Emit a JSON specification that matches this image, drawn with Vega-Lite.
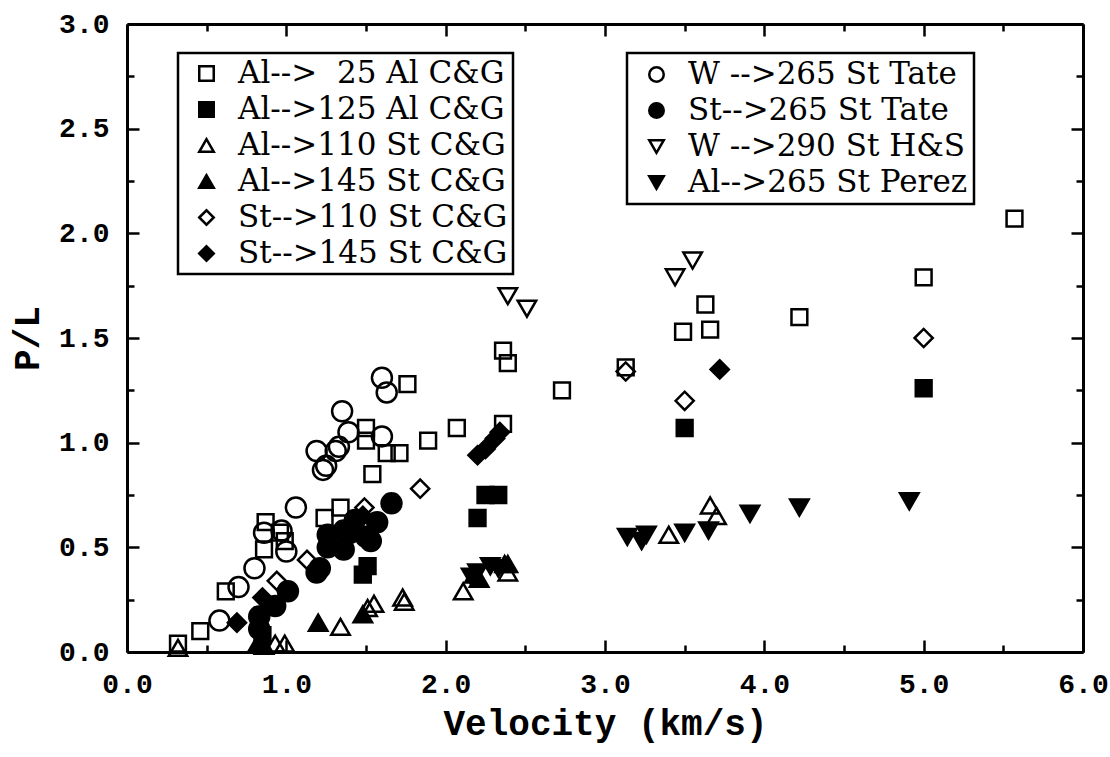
{
  "$schema": "https://vega.github.io/schema/vega-lite/v6.json",
  "width": 956,
  "height": 628,
  "autosize": "none",
  "padding": {"left": 127, "top": 24, "right": 27, "bottom": 105},
  "background": "white",
  "config": {
    "view": {"stroke": null},
    "axis": {
      "domainColor": "black", "domainWidth": 3, "tickColor": "black", "tickWidth": 2.5,
      "labelFont": "Liberation Mono", "labelFontWeight": "bold", "labelFontSize": 28, "labelColor": "black",
      "titleFont": "Liberation Mono", "titleFontWeight": "bold", "titleFontSize": 36, "titleColor": "black",
      "grid": false, "labelFlush": false, "labelOverlap": false
    },
    "legend": {
      "labelFont": "DejaVu Serif", "labelFontSize": 31, "labelColor": "black", "labelLimit": 500,
      "strokeColor": "black", "strokeWidth": 2.5, "fillColor": "white",
      "symbolStrokeWidth": 2.5, "symbolSize": 210
    }
  },
  "datasets": {
    "a": [
      {"s": "Al-->\u200725 Al C&G", "v": 0.32, "pl": 0.04},
      {"s": "Al-->\u200725 Al C&G", "v": 0.46, "pl": 0.10},
      {"s": "Al-->\u200725 Al C&G", "v": 0.62, "pl": 0.29},
      {"s": "Al-->\u200725 Al C&G", "v": 0.86, "pl": 0.49},
      {"s": "Al-->\u200725 Al C&G", "v": 0.87, "pl": 0.62},
      {"s": "Al-->\u200725 Al C&G", "v": 0.96, "pl": 0.57},
      {"s": "Al-->\u200725 Al C&G", "v": 0.99, "pl": 0.53},
      {"s": "Al-->\u200725 Al C&G", "v": 1.24, "pl": 0.64},
      {"s": "Al-->\u200725 Al C&G", "v": 1.34, "pl": 0.69},
      {"s": "Al-->\u200725 Al C&G", "v": 1.50, "pl": 1.07},
      {"s": "Al-->\u200725 Al C&G", "v": 1.50, "pl": 1.01},
      {"s": "Al-->\u200725 Al C&G", "v": 1.54, "pl": 0.85},
      {"s": "Al-->\u200725 Al C&G", "v": 1.63, "pl": 0.95},
      {"s": "Al-->\u200725 Al C&G", "v": 1.71, "pl": 0.95},
      {"s": "Al-->\u200725 Al C&G", "v": 1.76, "pl": 1.28},
      {"s": "Al-->\u200725 Al C&G", "v": 1.89, "pl": 1.01},
      {"s": "Al-->\u200725 Al C&G", "v": 2.07, "pl": 1.07},
      {"s": "Al-->\u200725 Al C&G", "v": 2.36, "pl": 1.09},
      {"s": "Al-->\u200725 Al C&G", "v": 2.36, "pl": 1.44},
      {"s": "Al-->\u200725 Al C&G", "v": 2.39, "pl": 1.38},
      {"s": "Al-->\u200725 Al C&G", "v": 2.73, "pl": 1.25},
      {"s": "Al-->\u200725 Al C&G", "v": 3.13, "pl": 1.36},
      {"s": "Al-->\u200725 Al C&G", "v": 3.49, "pl": 1.53},
      {"s": "Al-->\u200725 Al C&G", "v": 3.63, "pl": 1.66},
      {"s": "Al-->\u200725 Al C&G", "v": 3.66, "pl": 1.54},
      {"s": "Al-->\u200725 Al C&G", "v": 4.22, "pl": 1.60},
      {"s": "Al-->\u200725 Al C&G", "v": 5.00, "pl": 1.79},
      {"s": "Al-->\u200725 Al C&G", "v": 5.57, "pl": 2.07},
      {"s": "Al-->125 Al C&G", "v": 0.85, "pl": 0.08},
      {"s": "Al-->125 Al C&G", "v": 1.48, "pl": 0.37},
      {"s": "Al-->125 Al C&G", "v": 1.51, "pl": 0.41},
      {"s": "Al-->125 Al C&G", "v": 2.20, "pl": 0.64},
      {"s": "Al-->125 Al C&G", "v": 2.25, "pl": 0.75},
      {"s": "Al-->125 Al C&G", "v": 2.33, "pl": 0.75},
      {"s": "Al-->125 Al C&G", "v": 3.50, "pl": 1.07},
      {"s": "Al-->125 Al C&G", "v": 5.00, "pl": 1.26},
      {"s": "Al-->110 St C&G", "v": 0.32, "pl": 0.02},
      {"s": "Al-->110 St C&G", "v": 0.93, "pl": 0.04},
      {"s": "Al-->110 St C&G", "v": 0.99, "pl": 0.04},
      {"s": "Al-->110 St C&G", "v": 1.34, "pl": 0.12},
      {"s": "Al-->110 St C&G", "v": 1.51, "pl": 0.21},
      {"s": "Al-->110 St C&G", "v": 1.55, "pl": 0.23},
      {"s": "Al-->110 St C&G", "v": 1.73, "pl": 0.26},
      {"s": "Al-->110 St C&G", "v": 1.74, "pl": 0.24},
      {"s": "Al-->110 St C&G", "v": 2.11, "pl": 0.29},
      {"s": "Al-->110 St C&G", "v": 2.37, "pl": 0.42},
      {"s": "Al-->110 St C&G", "v": 2.39, "pl": 0.38},
      {"s": "Al-->110 St C&G", "v": 3.40, "pl": 0.56},
      {"s": "Al-->110 St C&G", "v": 3.66, "pl": 0.70},
      {"s": "Al-->110 St C&G", "v": 3.70, "pl": 0.65},
      {"s": "Al-->145 St C&G", "v": 0.82, "pl": 0.04},
      {"s": "Al-->145 St C&G", "v": 0.86, "pl": 0.03},
      {"s": "Al-->145 St C&G", "v": 1.20, "pl": 0.14},
      {"s": "Al-->145 St C&G", "v": 1.48, "pl": 0.18},
      {"s": "Al-->145 St C&G", "v": 2.18, "pl": 0.37},
      {"s": "Al-->145 St C&G", "v": 2.21, "pl": 0.35},
      {"s": "Al-->145 St C&G", "v": 2.39, "pl": 0.42},
      {"s": "St-->110 St C&G", "v": 0.94, "pl": 0.34},
      {"s": "St-->110 St C&G", "v": 1.13, "pl": 0.44},
      {"s": "St-->110 St C&G", "v": 1.49, "pl": 0.69},
      {"s": "St-->110 St C&G", "v": 1.84, "pl": 0.78},
      {"s": "St-->110 St C&G", "v": 3.13, "pl": 1.34},
      {"s": "St-->110 St C&G", "v": 3.50, "pl": 1.20},
      {"s": "St-->110 St C&G", "v": 5.00, "pl": 1.50},
      {"s": "St-->145 St C&G", "v": 0.69, "pl": 0.14},
      {"s": "St-->145 St C&G", "v": 0.85, "pl": 0.26},
      {"s": "St-->145 St C&G", "v": 1.40, "pl": 0.60},
      {"s": "St-->145 St C&G", "v": 1.48, "pl": 0.65},
      {"s": "St-->145 St C&G", "v": 2.20, "pl": 0.94},
      {"s": "St-->145 St C&G", "v": 2.25, "pl": 0.97},
      {"s": "St-->145 St C&G", "v": 2.31, "pl": 1.02},
      {"s": "St-->145 St C&G", "v": 2.34, "pl": 1.05},
      {"s": "St-->145 St C&G", "v": 3.72, "pl": 1.35}
    ],
    "b": [
      {"s": "W -->265 St Tate", "v": 0.58, "pl": 0.15},
      {"s": "W -->265 St Tate", "v": 0.70, "pl": 0.31},
      {"s": "W -->265 St Tate", "v": 0.80, "pl": 0.40},
      {"s": "W -->265 St Tate", "v": 0.86, "pl": 0.57},
      {"s": "W -->265 St Tate", "v": 0.97, "pl": 0.58},
      {"s": "W -->265 St Tate", "v": 1.00, "pl": 0.48},
      {"s": "W -->265 St Tate", "v": 1.06, "pl": 0.69},
      {"s": "W -->265 St Tate", "v": 1.19, "pl": 0.96},
      {"s": "W -->265 St Tate", "v": 1.23, "pl": 0.87},
      {"s": "W -->265 St Tate", "v": 1.25, "pl": 0.89},
      {"s": "W -->265 St Tate", "v": 1.31, "pl": 0.96},
      {"s": "W -->265 St Tate", "v": 1.33, "pl": 0.98},
      {"s": "W -->265 St Tate", "v": 1.35, "pl": 1.15},
      {"s": "W -->265 St Tate", "v": 1.39, "pl": 1.05},
      {"s": "W -->265 St Tate", "v": 1.60, "pl": 1.03},
      {"s": "W -->265 St Tate", "v": 1.60, "pl": 1.31},
      {"s": "W -->265 St Tate", "v": 1.63, "pl": 1.24},
      {"s": "St-->265 St Tate", "v": 0.83, "pl": 0.11},
      {"s": "St-->265 St Tate", "v": 0.83, "pl": 0.17},
      {"s": "St-->265 St Tate", "v": 0.93, "pl": 0.22},
      {"s": "St-->265 St Tate", "v": 1.01, "pl": 0.29},
      {"s": "St-->265 St Tate", "v": 1.19, "pl": 0.38},
      {"s": "St-->265 St Tate", "v": 1.21, "pl": 0.40},
      {"s": "St-->265 St Tate", "v": 1.26, "pl": 0.50},
      {"s": "St-->265 St Tate", "v": 1.26, "pl": 0.56},
      {"s": "St-->265 St Tate", "v": 1.36, "pl": 0.49},
      {"s": "St-->265 St Tate", "v": 1.36, "pl": 0.58},
      {"s": "St-->265 St Tate", "v": 1.40, "pl": 0.57},
      {"s": "St-->265 St Tate", "v": 1.43, "pl": 0.63},
      {"s": "St-->265 St Tate", "v": 1.50, "pl": 0.55},
      {"s": "St-->265 St Tate", "v": 1.53, "pl": 0.53},
      {"s": "St-->265 St Tate", "v": 1.57, "pl": 0.62},
      {"s": "St-->265 St Tate", "v": 1.66, "pl": 0.71},
      {"s": "W -->290 St H&S", "v": 2.39, "pl": 1.70},
      {"s": "W -->290 St H&S", "v": 2.51, "pl": 1.64},
      {"s": "W -->290 St H&S", "v": 3.44, "pl": 1.79},
      {"s": "W -->290 St H&S", "v": 3.55, "pl": 1.87},
      {"s": "Al-->265 St Perez", "v": 2.16, "pl": 0.36},
      {"s": "Al-->265 St Perez", "v": 2.20, "pl": 0.38},
      {"s": "Al-->265 St Perez", "v": 2.28, "pl": 0.41},
      {"s": "Al-->265 St Perez", "v": 2.33, "pl": 0.40},
      {"s": "Al-->265 St Perez", "v": 3.14, "pl": 0.55},
      {"s": "Al-->265 St Perez", "v": 3.23, "pl": 0.53},
      {"s": "Al-->265 St Perez", "v": 3.26, "pl": 0.56},
      {"s": "Al-->265 St Perez", "v": 3.50, "pl": 0.57},
      {"s": "Al-->265 St Perez", "v": 3.65, "pl": 0.58},
      {"s": "Al-->265 St Perez", "v": 3.91, "pl": 0.66},
      {"s": "Al-->265 St Perez", "v": 4.22, "pl": 0.69},
      {"s": "Al-->265 St Perez", "v": 4.91, "pl": 0.72}
    ]
  },
  "layer": [
    {
      "data": {"name": "a"},
      "encoding": {
        "x": {"field": "v", "type": "quantitative", "scale": {"domain": [0, 6], "nice": false, "zero": false},
          "axis": {"orient": "bottom", "values": [0, 1, 2, 3, 4, 5, 6], "format": ".1f",
            "tickSize": -12, "labelPadding": 30, "title": "Velocity (km/s)", "titlePadding": 8}},
        "y": {"field": "pl", "type": "quantitative", "scale": {"domain": [0, 3], "nice": false, "zero": false},
          "axis": {"orient": "left", "values": [0, 0.5, 1, 1.5, 2, 2.5, 3], "format": ".1f",
            "tickSize": -12, "labelPadding": 30, "title": "P/L", "titlePadding": 12}},
        "shape": {"field": "s", "type": "nominal",
          "scale": {"domain": ["Al-->\u200725 Al C&G", "Al-->125 Al C&G", "Al-->110 St C&G", "Al-->145 St C&G", "St-->110 St C&G", "St-->145 St C&G"],
            "range": ["square", "square", "triangle-up", "triangle-up", "diamond", "diamond"]},
          "legend": {"orient": "none", "legendX": 51, "legendY": 29, "title": null, "padding": 5, "symbolOffset": 8, "labelOffset": 16, "rowPadding": 4}},
        "fill": {"field": "s", "type": "nominal",
          "scale": {"domain": ["Al-->\u200725 Al C&G", "Al-->125 Al C&G", "Al-->110 St C&G", "Al-->145 St C&G", "St-->110 St C&G", "St-->145 St C&G"],
            "range": ["transparent", "black", "transparent", "black", "transparent", "black"]},
          "legend": {"orient": "none", "legendX": 51, "legendY": 29, "title": null, "padding": 5, "symbolOffset": 8, "labelOffset": 16, "rowPadding": 4}},
        "stroke": {"field": "s", "type": "nominal",
          "scale": {"domain": ["Al-->\u200725 Al C&G", "Al-->125 Al C&G", "Al-->110 St C&G", "Al-->145 St C&G", "St-->110 St C&G", "St-->145 St C&G"],
            "range": ["black", "black", "black", "black", "black", "black"]},
          "legend": {"orient": "none", "legendX": 51, "legendY": 29, "title": null, "padding": 5, "symbolOffset": 8, "labelOffset": 16, "rowPadding": 4}}
      },
      "layer": [
        {"transform": [{"filter": {"field": "s", "oneOf": ["Al-->\u200725 Al C&G", "Al-->125 Al C&G"]}}],
         "mark": {"type": "point", "filled": true, "strokeWidth": 2.5, "opacity": 1, "size": 250}},
        {"transform": [{"filter": {"field": "s", "oneOf": ["Al-->110 St C&G", "Al-->145 St C&G"]}}],
         "mark": {"type": "point", "filled": true, "strokeWidth": 2.5, "opacity": 1, "size": 340}},
        {"transform": [{"filter": {"field": "s", "oneOf": ["St-->110 St C&G", "St-->145 St C&G"]}}],
         "mark": {"type": "point", "filled": true, "strokeWidth": 2.5, "opacity": 1, "size": 330}}
      ]
    },
    {
      "data": {"name": "b"},
      "encoding": {
        "x": {"field": "v", "type": "quantitative", "scale": {"domain": [0, 6], "nice": false, "zero": false},
          "axis": {"orient": "top", "values": [0, 1, 2, 3, 4, 5, 6], "labels": false, "tickSize": -12, "title": null}},
        "y": {"field": "pl", "type": "quantitative", "scale": {"domain": [0, 3], "nice": false, "zero": false},
          "axis": {"orient": "right", "values": [0, 0.5, 1, 1.5, 2, 2.5, 3], "labels": false, "tickSize": -12, "title": null}},
        "shape": {"field": "s", "type": "nominal",
          "scale": {"domain": ["W -->265 St Tate", "St-->265 St Tate", "W -->290 St H&S", "Al-->265 St Perez"],
            "range": ["circle", "circle", "triangle-down", "triangle-down"]},
          "legend": {"orient": "none", "legendX": 500, "legendY": 29, "title": null, "padding": 6, "symbolOffset": 8, "labelOffset": 16, "rowPadding": 4}},
        "fill": {"field": "s", "type": "nominal",
          "scale": {"domain": ["W -->265 St Tate", "St-->265 St Tate", "W -->290 St H&S", "Al-->265 St Perez"],
            "range": ["transparent", "black", "transparent", "black"]},
          "legend": {"orient": "none", "legendX": 500, "legendY": 29, "title": null, "padding": 6, "symbolOffset": 8, "labelOffset": 16, "rowPadding": 4}},
        "stroke": {"field": "s", "type": "nominal",
          "scale": {"domain": ["W -->265 St Tate", "St-->265 St Tate", "W -->290 St H&S", "Al-->265 St Perez"],
            "range": ["black", "black", "black", "black"]},
          "legend": {"orient": "none", "legendX": 500, "legendY": 29, "title": null, "padding": 6, "symbolOffset": 8, "labelOffset": 16, "rowPadding": 4}}
      },
      "layer": [
        {"transform": [{"filter": {"field": "s", "oneOf": ["W -->265 St Tate", "St-->265 St Tate"]}}],
         "mark": {"type": "point", "filled": true, "strokeWidth": 2.5, "opacity": 1, "size": 400}},
        {"transform": [{"filter": {"field": "s", "oneOf": ["W -->290 St H&S", "Al-->265 St Perez"]}}],
         "mark": {"type": "point", "filled": true, "strokeWidth": 2.5, "opacity": 1, "size": 340}}
      ]
    },
    {
      "data": {"name": "a"},
      "mark": {"type": "point", "opacity": 0},
      "encoding": {
        "x": {"field": "v", "type": "quantitative", "scale": {"domain": [0, 6], "nice": false, "zero": false},
          "axis": {"orient": "bottom", "values": [0.5, 1.5, 2.5, 3.5, 4.5, 5.5], "labels": false, "domain": false, "tickSize": -7, "title": null}},
        "y": {"field": "pl", "type": "quantitative", "scale": {"domain": [0, 3], "nice": false, "zero": false},
          "axis": {"orient": "left", "values": [0.25, 0.75, 1.25, 1.75, 2.25, 2.75], "labels": false, "domain": false, "tickSize": -7, "title": null}}
      }
    },
    {
      "data": {"name": "a"},
      "mark": {"type": "point", "opacity": 0},
      "encoding": {
        "x": {"field": "v", "type": "quantitative", "scale": {"domain": [0, 6], "nice": false, "zero": false},
          "axis": {"orient": "top", "values": [0.5, 1.5, 2.5, 3.5, 4.5, 5.5], "labels": false, "domain": false, "tickSize": -7, "title": null}},
        "y": {"field": "pl", "type": "quantitative", "scale": {"domain": [0, 3], "nice": false, "zero": false},
          "axis": {"orient": "right", "values": [0.25, 0.75, 1.25, 1.75, 2.25, 2.75], "labels": false, "domain": false, "tickSize": -7, "title": null}}
      }
    }
  ],
  "resolve": {"scale": {"shape": "independent", "fill": "independent", "stroke": "independent"}, "axis": {"x": "independent", "y": "independent"}}
}
